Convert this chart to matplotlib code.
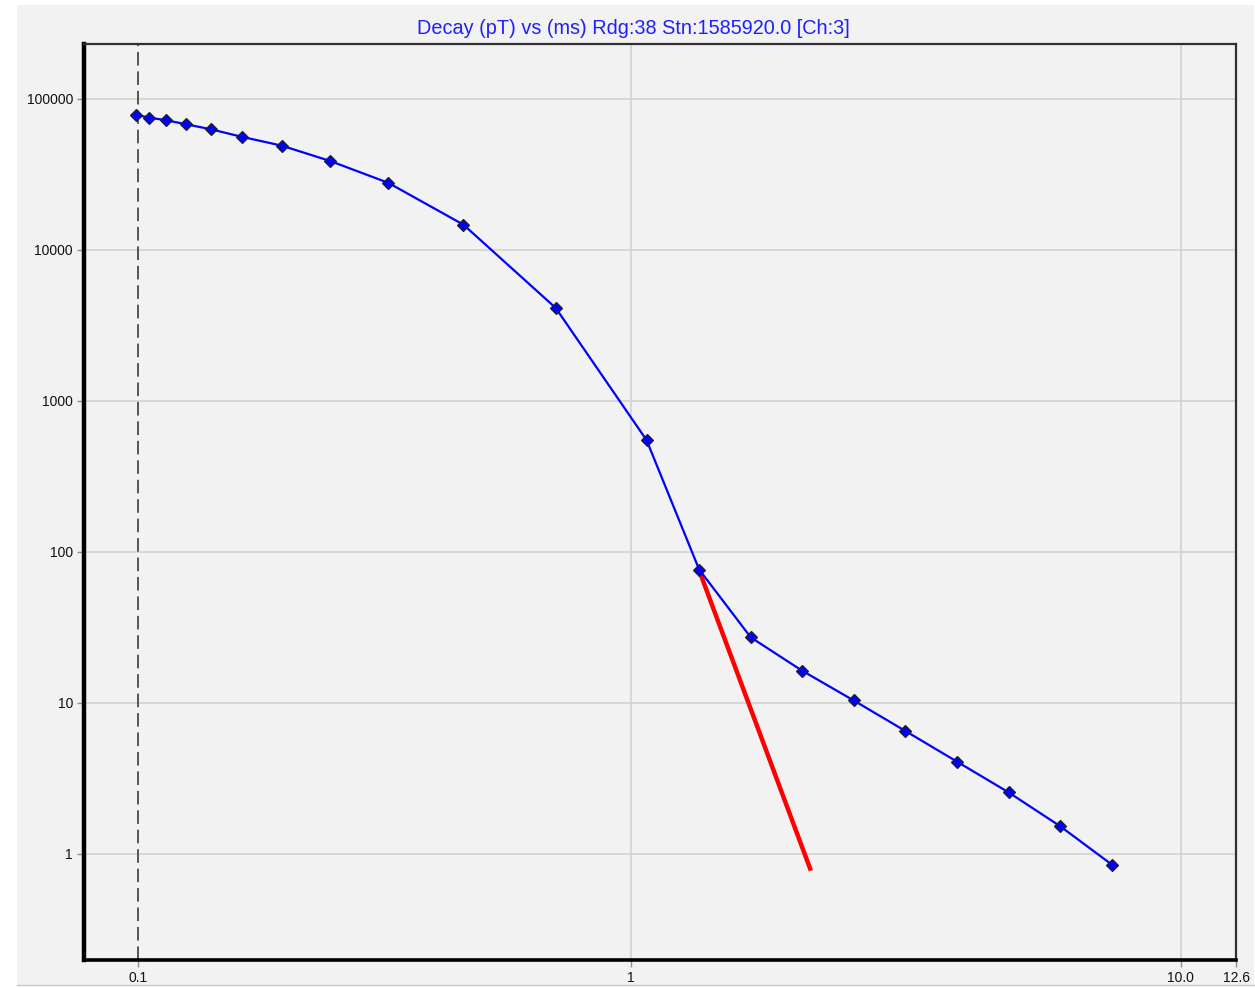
#!/usr/bin/env python3
import matplotlib
matplotlib.use("Agg")
import matplotlib.pyplot as plt
from matplotlib.patches import Rectangle

plt.rcParams['font.family'] = ['Liberation Sans', 'DejaVu Sans']

# decay curve (time in ms, decay in pT)
times = [0.1261, 0.1330, 0.1427, 0.1553, 0.1722, 0.1967, 0.2317, 0.2838,
         0.3624, 0.4960, 0.7300, 1.068, 1.331, 1.652, 2.046, 2.541,
         3.155, 3.925, 4.861, 6.030, 7.510]
decay = [78340, 75200, 72300, 67950, 62950, 55980, 49060, 38830,
         27780, 14700, 4130, 550, 76.5, 27.2, 16.4, 10.4,
         6.53, 4.07, 2.56, 1.53, 0.845]

# red fitted segment
fit_t = [1.337, 2.125]
fit_v = [72.3, 0.775]

first_gate = 0.127
title = "Decay (pT) vs (ms) Rdg:38 Stn:1585920.0 [Ch:3]"
xtick_vals = [first_gate, 10.0, 12.6]
xtick_labels = ["0.1", "10.0", "12.6"]
ytick_vals = [1, 10, 100, 1000, 10000, 100000]
ytick_labels = ["1", "10", "100", "1000", "10000", "100000"]

W, H = 1255, 988
bg = '#f2f2f2'
fig = plt.figure(figsize=(W / 100, H / 100), dpi=100, facecolor='white')
fig.add_artist(Rectangle((17 / W, (H - 985) / H), (1254 - 17) / W, (985 - 5) / H,
                         transform=fig.transFigure, facecolor=bg,
                         edgecolor='none', zorder=-2))
fig.add_artist(plt.Line2D([17 / W, 1254 / W], [(H - 985) / H] * 2,
                          transform=fig.transFigure, color='#c8c8c8', lw=1,
                          zorder=-1))

ax = fig.add_axes([84 / W, (H - 960) / H, (1236 - 84) / W, (960 - 44) / H])
ax.set_facecolor(bg)
ax.set_xscale('log')
ax.set_yscale('log')
ax.set_xlim(0.1013, 12.6)
ax.set_ylim(0.1986, 2.31e5)

# grid
for v in ytick_vals:
    ax.axhline(v, color='#d2d2d2', lw=1.2, zorder=1)
for v in [1, 10]:
    ax.axvline(v, color='#d2d2d2', lw=1.2, zorder=1)
ax.axvline(first_gate, color='#555555', lw=1.4, dashes=(7, 3), zorder=2)

ax.plot(times, decay, color='#0000ff', lw=1.6, marker='D', markersize=6,
        markerfacecolor='#0000ff', markeredgecolor='#202020', markeredgewidth=0.9,
        zorder=4)
ax.plot(fit_t, fit_v, color='#ff0000', lw=3.2, zorder=3, solid_capstyle='butt')

ax.minorticks_off()
ax.set_xticks([1] + xtick_vals)
ax.set_xticklabels(["1"] + xtick_labels)
ax.set_yticks(ytick_vals)
ax.set_yticklabels(ytick_labels)
ax.tick_params(axis='both', which='major', length=5, width=1, color='#909090',
               labelsize=10, labelcolor='#111111', pad=3)
ax.tick_params(axis='y', which='minor', left=False)
ax.tick_params(axis='x', which='minor', bottom=False)

for side, lw, c in [('left', 3.2, 'black'), ('bottom', 2.6, 'black'),
                    ('top', 1.6, '#303030'), ('right', 1.6, '#303030')]:
    ax.spines[side].set_linewidth(lw)
    ax.spines[side].set_color(c)
    ax.spines[side].set_zorder(5)

fig.text(633 / W, 1 - 28 / H, title, color='#1f1fff', fontsize=14.3,
         ha='center', va='center')

fig.savefig('out.png', dpi=100, facecolor='white')
